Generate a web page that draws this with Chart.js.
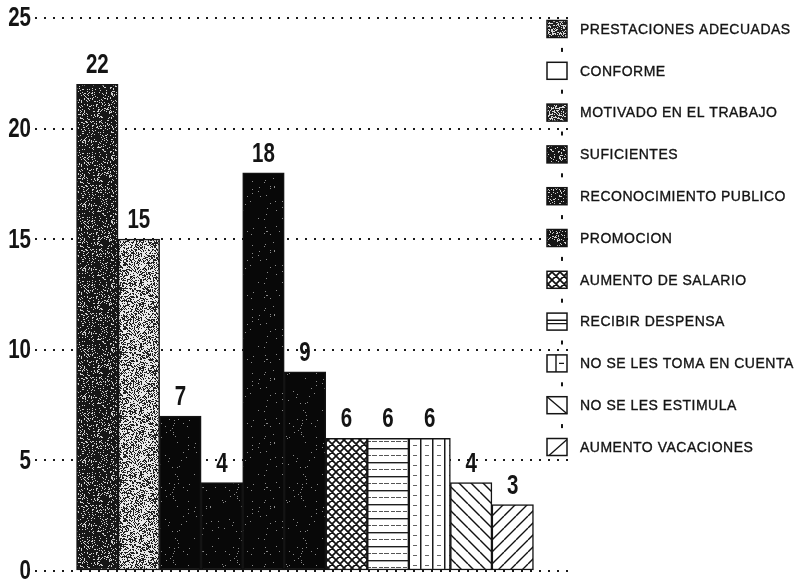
<!DOCTYPE html>
<html>
<head>
<meta charset="utf-8">
<script src="https://cdn.jsdelivr.net/npm/chart.js@4.4.1/dist/chart.umd.min.js"></script>
<style>
  html, body { margin: 0; padding: 0; background: #ffffff; }
  #wrap { width: 802px; height: 581px; position: relative; }
</style>
</head>
<body>
<div id="wrap"><canvas id="c" width="802" height="581"></canvas></div>
<script>
// Survey answers and how many people gave each one
const categories = [
  'PRESTACIONES ADECUADAS',
  'CONFORME',
  'MOTIVADO EN EL TRABAJO',
  'SUFICIENTES',
  'RECONOCIMIENTO PUBLICO',
  'PROMOCION',
  'AUMENTO DE SALARIO',
  'RECIBIR DESPENSA',
  'NO SE LES TOMA EN CUENTA',
  'NO SE LES ESTIMULA',
  'AUMENTO VACACIONES'
];
const counts = [22, 15, 7, 4, 18, 9, 6, 6, 6, 4, 3];
const yTicks = [0, 5, 10, 15, 20, 25];

// Fill style of each bar and of its key swatch
const barFills = ['grainDark', 'grainLight', 'black', 'black', 'black', 'black',
                  'crosshatch', 'hlines', 'vlines', 'diagDown', 'diagUp'];
const swatchFills = ['grainMid', 'blank', 'grainMid', 'grainDark', 'grainDark', 'grainDark',
                     'crosshatch', 'hlines', 'vlines', 'diagDown', 'diagUp'];

const NUM_FONT = "bold 27px 'Liberation Sans', Arial, Helvetica, sans-serif";
const NUM_SQUEEZE = 0.76;   // condensed look for the numerals
const PLAIN = "'Liberation Sans', Arial, Helvetica, sans-serif";
const INK = '#141414';

const canvas = document.getElementById('c');
const mainCtx = canvas.getContext('2d');

// deterministic per-pixel hash for print grain
function hash(x, y, seed) {
  let h = Math.imul(x, 374761393) ^ Math.imul(y, 668265263) ^ Math.imul(seed, 2246822519);
  h = Math.imul(h ^ (h >>> 13), 1274126177);
  h ^= h >>> 16;
  return (h >>> 0) / 4294967296;
}

function tile(w, h, paint) {
  const cv = document.createElement('canvas');
  cv.width = w; cv.height = h;
  const g = cv.getContext('2d');
  paint(g, w, h);
  return mainCtx.createPattern(cv, 'repeat');
}

function grain(lightShare, dark, light, seed) {
  return tile(64, 64, (g, w, h) => {
    g.fillStyle = dark; g.fillRect(0, 0, w, h);
    g.fillStyle = light;
    for (let y = 0; y < h; y++) {
      for (let x = 0; x < w; x++) {
        if (hash(x, y, seed) < lightShare) g.fillRect(x, y, 1, 1);
      }
    }
  });
}

const fills = {
  blank: '#ffffff',
  black: grain(0.015, '#080808', '#8a8a8a', 3),
  grainDark: grain(0.16, '#161616', '#d0d0d0', 7),
  grainMid: grain(0.32, '#202020', '#d8d8d8', 11),
  grainLight: grain(0.58, '#202020', '#e8e8e8', 5),
  crosshatch: tile(8, 8, (g, w, h) => {
    g.fillStyle = '#fff'; g.fillRect(0, 0, w, h);
    g.strokeStyle = '#111'; g.lineWidth = 1.7;
    g.beginPath();
    for (const o of [-w, 0, w]) {
      g.moveTo(o, 0); g.lineTo(o + w, h);
      g.moveTo(o, h); g.lineTo(o + w, 0);
    }
    g.stroke();
  }),
  hlines: tile(12, 14, (g, w, h) => {
    g.fillStyle = '#fff'; g.fillRect(0, 0, w, h);
    g.fillStyle = '#1e1e1e';
    g.fillRect(0, 0, w, 1.4);
    g.fillStyle = '#555';
    g.fillRect(0, 7, 5, 1); g.fillRect(7, 7, 4, 1);
  }),
  vlines: tile(12, 10, (g, w, h) => {
    g.fillStyle = '#fff'; g.fillRect(0, 0, w, h);
    g.fillStyle = '#1a1a1a';
    g.fillRect(0, 0, 1.5, h);
    g.fillStyle = '#666';
    g.fillRect(5, 5, 4, 1);
  }),
  diagDown: tile(12, 12, (g, w, h) => {
    g.fillStyle = '#fff'; g.fillRect(0, 0, w, h);
    g.strokeStyle = '#111'; g.lineWidth = 1.4;
    g.beginPath();
    for (const o of [-w, 0, w]) { g.moveTo(o, 0); g.lineTo(o + w, h); }
    g.stroke();
  }),
  diagUp: tile(12, 12, (g, w, h) => {
    g.fillStyle = '#fff'; g.fillRect(0, 0, w, h);
    g.strokeStyle = '#111'; g.lineWidth = 1.4;
    g.beginPath();
    for (const o of [-w, 0, w]) { g.moveTo(o, h); g.lineTo(o + w, 0); }
    g.stroke();
  })
};

// condensed numeral, horizontally squeezed around its anchor
function numeral(ctx, text, x, y, align, baseline) {
  ctx.save();
  ctx.translate(x, y);
  ctx.scale(NUM_SQUEEZE, 1);
  ctx.font = NUM_FONT;
  ctx.fillStyle = INK;
  ctx.textAlign = align;
  ctx.textBaseline = baseline;
  ctx.fillText(text, 0, 0);
  ctx.restore();
}

// y tick numbers, placed with the value scale
const yNumbers = {
  id: 'yNumbers',
  afterDraw(chart) {
    const y = chart.scales.y;
    yTicks.forEach(v => numeral(chart.ctx, String(v), 31, y.getPixelForValue(v) + 1, 'right', 'middle'));
  }
};

// count printed above each bar
const valueLabels = {
  id: 'valueLabels',
  afterDatasetsDraw(chart) {
    const bars = chart.getDatasetMeta(0).data;
    bars.forEach((bar, i) => numeral(chart.ctx, String(counts[i]), bar.x, bar.y - 11, 'center', 'alphabetic'));
  }
};

// key column at the right: swatch + answer text
function drawSwatch(ctx, kind, x, y, w, h) {
  ctx.save();
  ctx.fillStyle = '#fff';
  ctx.fillRect(x, y, w, h);
  ctx.strokeStyle = INK;
  ctx.lineWidth = 1.4;
  if (kind === 'diagDown' || kind === 'diagUp') {
    ctx.beginPath();
    if (kind === 'diagDown') { ctx.moveTo(x, y); ctx.lineTo(x + w, y + h); }
    else { ctx.moveTo(x + 2, y + h); ctx.lineTo(x + w, y + 1); }
    ctx.stroke();
  } else if (kind === 'hlines') {
    ctx.beginPath();
    ctx.moveTo(x, y + h * 0.42); ctx.lineTo(x + w, y + h * 0.42);
    ctx.moveTo(x, y + h * 0.62); ctx.lineTo(x + w, y + h * 0.62);
    ctx.stroke();
  } else if (kind === 'vlines') {
    ctx.beginPath();
    ctx.moveTo(x + w * 0.45, y); ctx.lineTo(x + w * 0.45, y + h);
    ctx.moveTo(x + w * 0.6, y + h * 0.5); ctx.lineTo(x + w * 0.85, y + h * 0.5);
    ctx.stroke();
  } else if (kind !== 'blank') {
    ctx.fillStyle = fills[kind];
    ctx.fillRect(x, y, w, h);
  }
  ctx.lineWidth = 1.5;
  ctx.strokeRect(x, y, w, h);
  ctx.restore();
}

const keyColumn = {
  id: 'keyColumn',
  afterDraw(chart) {
    const ctx = chart.ctx;
    const top = 29, step = 41.8;
    const sx = 547, sw = 20, sh = 17, tx = 580;
    ctx.save();
    categories.forEach((name, i) => {
      const cy = top + i * step;
      drawSwatch(ctx, swatchFills[i], sx, cy - sh / 2, sw, sh);
      if (i < categories.length - 1) {
        ctx.fillStyle = INK;
        ctx.fillRect(sx + 14, cy + step / 2 - 2, 2, 4);
      }
      ctx.fillStyle = INK;
      ctx.strokeStyle = INK;
      ctx.lineWidth = 0.35;
      ctx.font = '14px ' + PLAIN;
      if ('letterSpacing' in ctx) ctx.letterSpacing = '0.5px';
      ctx.textAlign = 'left';
      ctx.textBaseline = 'middle';
      ctx.fillText(name, tx, cy + 1);
      ctx.strokeText(name, tx, cy + 1);
    });
    ctx.restore();
  }
};

new Chart(canvas, {
  type: 'bar',
  data: {
    datasets: [{
      label: 'Respuestas',
      data: counts.map((v, i) => ({ x: i, y: v })),
      backgroundColor: barFills.map(k => fills[k]),
      borderColor: INK,
      borderWidth: 1.5,
      borderSkipped: false,
      barPercentage: 1,
      categoryPercentage: 1
    }]
  },
  options: {
    responsive: false,
    animation: false,
    devicePixelRatio: 1,
    layout: { padding: { left: 0, right: 227, top: 18, bottom: 10 } },
    plugins: {
      legend: { display: false },
      tooltip: { enabled: false }
    },
    scales: {
      x: {
        type: 'linear',
        offset: false,
        min: -1.5,
        max: 11.5,
        display: false
      },
      y: {
        min: 0,
        max: 25,
        afterBuildTicks: (scale) => { scale.ticks = yTicks.map(v => ({ value: v })); },
        afterFit: (scale) => { scale.width = 35; scale.paddingTop = 0; scale.paddingBottom = 0; },
        border: { display: false, dash: [2, 7] },
        grid: {
          color: '#1a1a1a',
          lineWidth: 2,
          drawTicks: false
        },
        ticks: { display: false }
      }
    }
  },
  plugins: [valueLabels, yNumbers, keyColumn]
});
</script>
</body>
</html>
